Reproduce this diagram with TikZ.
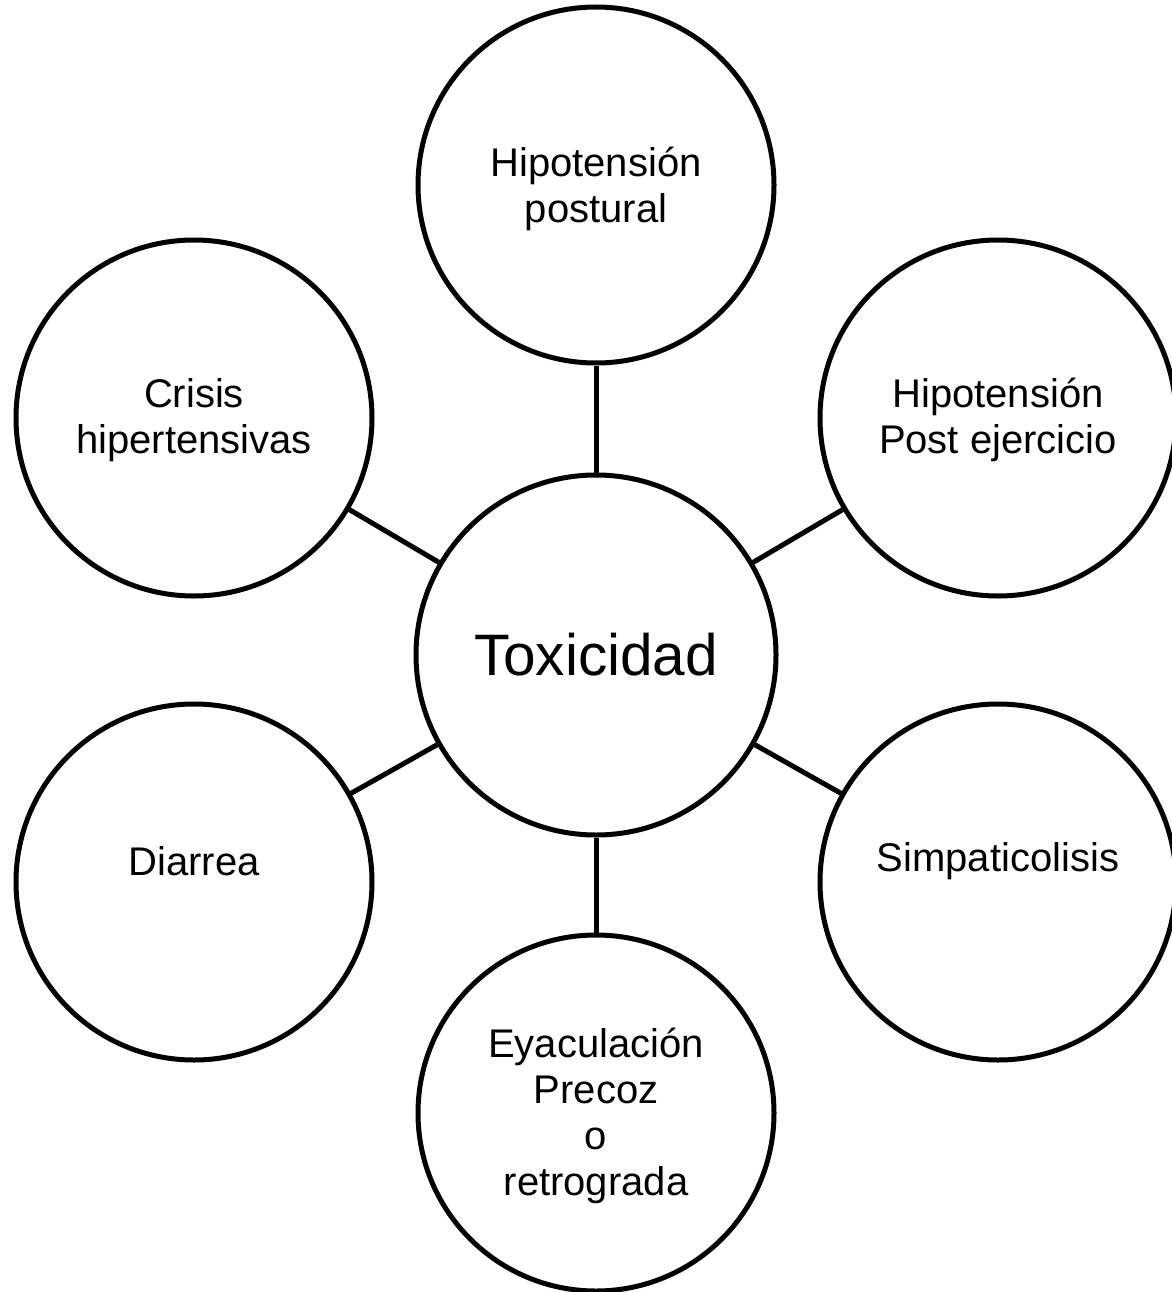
\documentclass[tikz,border=0pt]{standalone}
\usepackage{fontspec}
\setmainfont{Liberation Sans}
\begin{document}
\begin{tikzpicture}[x=1pt,y=-1pt,
  bubble/.style={circle,draw=black,line width=5pt,fill=white,minimum size=356pt,inner sep=0pt},
  hub/.style={circle,draw=black,line width=5pt,fill=white,minimum size=360pt,inner sep=0pt,
              font=\fontsize{58.5}{67}\selectfont},
  lbl/.style={align=center,inner sep=0pt,font=\fontsize{40}{46}\selectfont},
  link/.style={line width=5pt}]
\useasboundingbox (0,0) rectangle (1171,1292);
\fill[white] (0,0) rectangle (1171,1292);

% central node
\node[hub] (tox) at (596,655) {Toxicidad};

% surrounding nodes
\node[bubble] (postural) at (596,185) {};
\node[bubble] (ejercicio) at (998,418) {};
\node[bubble] (simpat) at (998,882) {};
\node[bubble] (eyac) at (596,1113) {};
\node[bubble] (diarrea) at (194,882) {};
\node[bubble] (crisis) at (194,418) {};

% labels inside the bubbles
\node[lbl] (tpostural) at ([yshift=-4pt]postural.center) {Hipotensión\\postural};
\node[lbl] (tejercicio) at ([yshift=-2pt]ejercicio.center) {Hipotensión\\Post ejercicio};
\node[lbl] (tsimpat) at ([yshift=21pt]simpat.center) {Simpaticolisis};
\node[lbl] (teyac) at ([yshift=-3pt]eyac.center) {Eyaculación\\Precoz\\o\\retrograda};
\node[lbl] (tdiarrea) at ([yshift=21pt]diarrea.center) {Diarrea};
\node[lbl] (tcrisis) at ([yshift=-2pt]crisis.center) {Crisis\\hipertensivas};

% spokes from the hub to each bubble
\draw[link] (tox) -- (postural);
\draw[link] (tox) -- (ejercicio);
\draw[link] (tox) -- (simpat);
\draw[link] (tox) -- (eyac);
\draw[link] (tox) -- (diarrea);
\draw[link] (tox) -- (crisis);
\end{tikzpicture}
\end{document}
